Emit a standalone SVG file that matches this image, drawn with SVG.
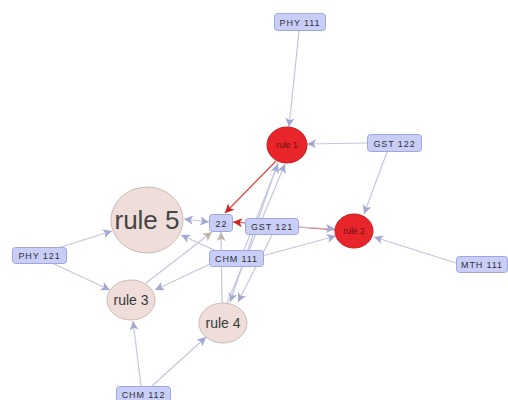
<svg xmlns="http://www.w3.org/2000/svg" width="508" height="400" viewBox="0 0 508 400">
<style>
.e{stroke:#c3c7df;stroke-width:1.2;fill:none}
.eg{marker-end:url(#ag)}
.et{marker-end:url(#at)}
.r{stroke:#d9463f;stroke-width:1.2;fill:none;marker-end:url(#ar)}
.box rect{fill:#c9cef6;stroke:#9ea6e0;stroke-width:1}
.box text{font-family:"Liberation Sans",Arial,sans-serif;font-size:9px;fill:#2e2e3a;text-anchor:middle;letter-spacing:0.9px}
.red ellipse{fill:#e8252a;stroke:#c81a1a;stroke-width:1}
.red text{font-family:"Liberation Sans",Arial,sans-serif;font-size:8.5px;fill:#6a1010;text-anchor:middle}
.pk ellipse{fill:#eeddd9;stroke:#cdbab4;stroke-width:1}
.pk text{font-family:"Liberation Sans",Arial,sans-serif;font-size:14px;fill:#3a3a3a;text-anchor:middle}
</style>
<defs>
<marker id="ag" viewBox="0 0 10 10" refX="10" refY="5" markerWidth="11" markerHeight="9" markerUnits="userSpaceOnUse" orient="auto"><path d="M0,0L10,5L0,10L2.5,5Z" fill="#a3a9d2"/></marker>
<marker id="at" viewBox="0 0 10 10" refX="10" refY="5" markerWidth="11" markerHeight="9" markerUnits="userSpaceOnUse" orient="auto"><path d="M0,0L10,5L0,10L2.5,5Z" fill="#c2b5a8"/></marker>
<marker id="ar" viewBox="0 0 10 10" refX="10" refY="5" markerWidth="11" markerHeight="9" markerUnits="userSpaceOnUse" orient="auto"><path d="M0,0L10,5L0,10L2.5,5Z" fill="#d41c1c"/></marker>
<marker id="ags" viewBox="0 0 10 10" refX="0" refY="5" markerWidth="11" markerHeight="9" markerUnits="userSpaceOnUse" orient="auto"><path d="M10,0L0,5L10,10L7.5,5Z" fill="#a3a9d2"/></marker>
</defs>
<rect width="508" height="400" fill="#ffffff"/>
<g id="edges">
<line class="e eg" x1="299" y1="31" x2="289" y2="127"/>
<line class="e eg" x1="367" y1="143" x2="307" y2="144"/>
<line class="e eg" x1="387" y1="152" x2="364" y2="214"/>
<line class="e eg" x1="456" y1="263" x2="374" y2="237"/>
<line class="r" x1="336" y1="230" x2="233" y2="222"/>
<line class="e eg" x1="299" y1="227" x2="335" y2="229"/>
<line class="e eg" x1="262" y1="256" x2="336" y2="236"/>
<line class="r" x1="276" y1="161" x2="225" y2="213"/>
<line class="e eg" marker-start="url(#ags)" x1="184" y1="219" x2="209" y2="222"/>
<line class="e eg" x1="214" y1="250" x2="181" y2="235"/>
<line class="e et" x1="146" y1="283" x2="212" y2="232"/>
<line class="e et" x1="222" y1="303" x2="221" y2="232"/>
<line class="e eg" x1="210" y1="264" x2="155" y2="290"/>
<line class="e eg" x1="58" y1="248" x2="112" y2="231"/>
<line class="e eg" x1="52" y1="263" x2="110" y2="290"/>
<line class="e eg" x1="141" y1="386" x2="133" y2="321"/>
<line class="e eg" x1="152" y1="386" x2="206" y2="337"/>
<line class="e eg" x1="278" y1="162" x2="230" y2="302"/>
<line class="e eg" x1="272" y1="235" x2="238" y2="302"/>
<line class="e eg" x1="244" y1="250" x2="278" y2="164"/>
<line class="e eg" x1="227" y1="303" x2="285" y2="164"/>
</g>
<g id="PHY111" class="box"><rect x="274.5" y="13.5" width="51" height="17" rx="3"/><text x="300" y="25.5">PHY 111</text></g>
<g id="GST122" class="box"><rect x="367.5" y="134.5" width="54" height="17" rx="3"/><text x="394.5" y="146.5">GST 122</text></g>
<g id="MTH111" class="box"><rect x="456.5" y="256.5" width="51" height="16" rx="3"/><text x="482" y="268">MTH 111</text></g>
<g id="n22" class="box"><rect x="209.5" y="214.5" width="23" height="17" rx="3"/><text x="221.5" y="226.5">22</text></g>
<g id="GST121" class="box"><rect x="245.5" y="218.5" width="53" height="16" rx="3"/><text x="272" y="230">GST 121</text></g>
<g id="CHM111" class="box"><rect x="209.5" y="250.5" width="54" height="16" rx="3"/><text x="236.5" y="262">CHM 111</text></g>
<g id="PHY121" class="box"><rect x="12.5" y="247.5" width="54" height="16" rx="3"/><text x="39.5" y="259">PHY 121</text></g>
<g id="CHM112" class="box"><rect x="116.5" y="386.5" width="54" height="16" rx="3"/><text x="143.5" y="398">CHM 112</text></g>
<g id="rule1" class="red"><ellipse cx="287" cy="145" rx="20" ry="18"/><text x="287" y="148">rule 1</text></g>
<g id="rule2" class="red"><ellipse cx="354" cy="231" rx="19" ry="17"/><text x="354" y="234">rule 2</text></g>
<g id="rule5" class="pk"><ellipse cx="147" cy="220" rx="36" ry="33"/><text x="147" y="229" style="font-size:26px;fill:#444">rule 5</text></g>
<g id="rule3" class="pk"><ellipse cx="131" cy="300" rx="24" ry="20"/><text x="131" y="305">rule 3</text></g>
<g id="rule4" class="pk"><ellipse cx="223" cy="323" rx="24" ry="20"/><text x="223" y="328">rule 4</text></g>
</svg>
